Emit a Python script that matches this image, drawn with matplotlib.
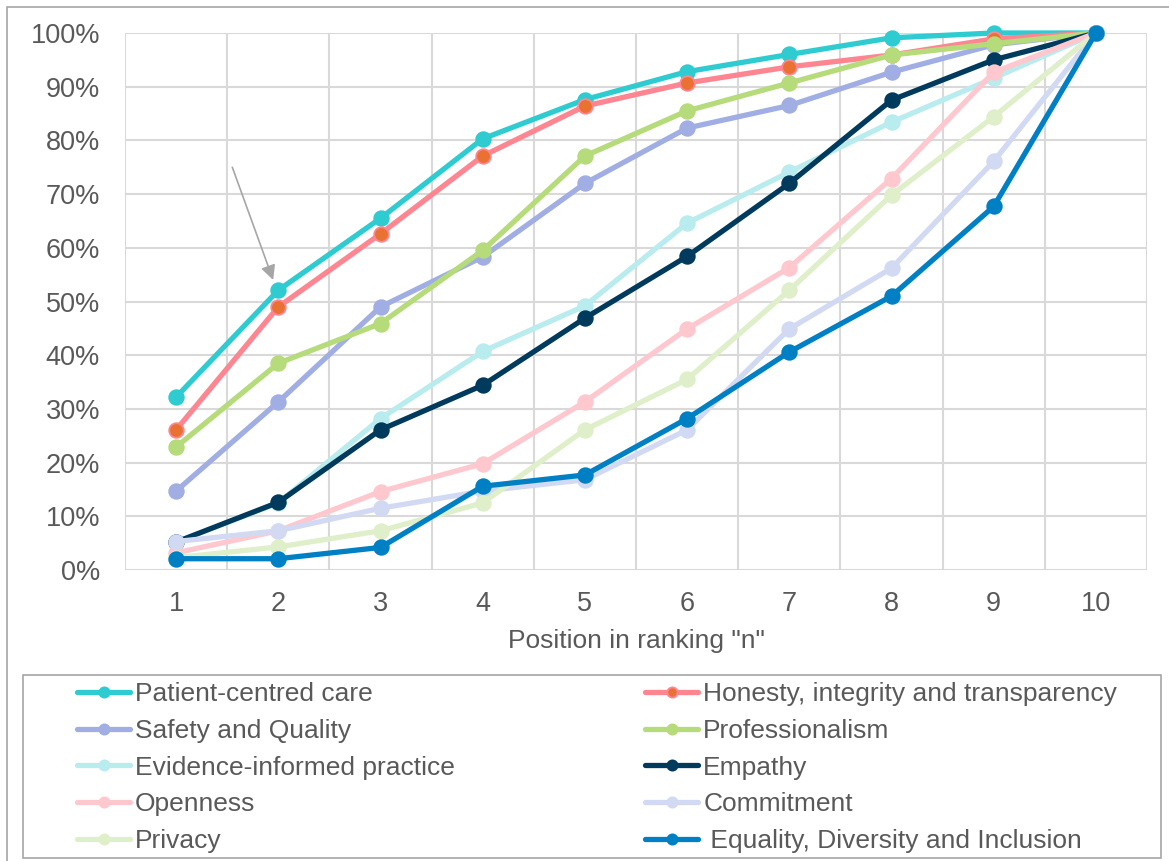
import matplotlib
matplotlib.use("Agg")
import matplotlib.pyplot as plt
from matplotlib.patches import Rectangle
from matplotlib.ticker import FixedLocator, PercentFormatter

plt.rcParams['font.family'] = ['Liberation Sans', 'DejaVu Sans']

# ranking positions
positions = [1, 2, 3, 4, 5, 6, 7, 8, 9, 10]

# cumulative share (%) of respondents ranking the value within top n
patient_centred = [32.2, 52.1, 65.5, 80.3, 87.6, 92.8, 96.0, 99.1, 100.0, 100.0]
honesty = [26.1, 49.0, 62.6, 77.1, 86.4, 90.7, 93.7, 95.9, 98.9, 100.0]
safety_quality = [14.7, 31.3, 49.0, 58.3, 72.0, 82.3, 86.5, 92.7, 97.8, 100.0]
professionalism = [22.9, 38.5, 45.9, 59.5, 77.1, 85.5, 90.7, 95.9, 98.0, 100.0]
evidence = [5.2, 12.5, 28.2, 40.7, 49.2, 64.6, 74.1, 83.4, 91.6, 100.0]
empathy = [5.2, 12.6, 26.1, 34.4, 46.9, 58.4, 72.0, 87.5, 95.0, 100.0]
openness = [3.2, 7.3, 14.6, 19.8, 31.3, 44.9, 56.3, 72.9, 92.7, 100.0]
commitment = [5.3, 7.3, 11.5, 14.7, 16.8, 26.1, 44.9, 56.2, 76.1, 100.0]
privacy = [2.3, 4.3, 7.3, 12.5, 26.1, 35.5, 52.1, 69.8, 84.4, 100.0]
equality = [2.1, 2.1, 4.2, 15.6, 17.7, 28.2, 40.6, 51.0, 67.7, 100.0]

series = [
    ("Patient-centred care", patient_centred, "#2ECCD1", "#2ECCD1"),
    ("Honesty, integrity and transparency", honesty, "#FF8591", "#E97132"),
    ("Safety and Quality", safety_quality, "#A0AEE4", "#A0AEE4"),
    ("Professionalism", professionalism, "#B5DB7A", "#B5DB7A"),
    ("Evidence-informed practice", evidence, "#B8ECEE", "#B8ECEE"),
    ("Empathy", empathy, "#003A5C", "#003A5C"),
    ("Openness", openness, "#FFC7CE", "#FFC7CE"),
    ("Commitment", commitment, "#D2DAF3", "#D2DAF3"),
    ("Privacy", privacy, "#DFEFC9", "#DFEFC9"),
    (" Equality, Diversity and Inclusion", equality, "#0080C4", "#0080C4"),
]

W, H = 1169, 861
fig = plt.figure(figsize=(W / 100, H / 100), dpi=100)
ax = fig.add_axes([125 / W, 1 - 570 / H, (1147 - 125) / W, (570 - 33) / H])

handles = []
for name, vals, col, mcol in series:
    ln, = ax.plot(positions, vals, color=col, lw=3.8, marker='o', ms=10.5,
                  markerfacecolor=mcol, markeredgecolor=col, markeredgewidth=1.3,
                  label=name, solid_capstyle='round', clip_on=False)
    handles.append(ln)

ax.set_xlim(0.5, 10.5)
ax.set_ylim(0, 100)
ax.set_xticks(positions)
ax.xaxis.set_minor_locator(FixedLocator([p - 0.5 for p in positions] + [10.5]))
ax.set_yticks(range(0, 101, 10))
ax.yaxis.set_major_formatter(PercentFormatter(decimals=0))
ax.grid(which='minor', axis='x', color='#D9D9D9', lw=1.5)
ax.grid(which='major', axis='y', color='#D9D9D9', lw=1.5)
ax.set_axisbelow(True)
for s in ax.spines.values():
    s.set_visible(False)
ax.tick_params(which='both', length=0, labelsize=19.5, colors='#595959')
ax.tick_params(axis='x', pad=15)
ax.tick_params(axis='y', pad=18)
ax.set_xlabel('Position in ranking "n"', fontsize=19, color='#595959', labelpad=9)

# annotation arrow
ax.annotate('', xy=(1.95, 54.0), xytext=(1.55, 75.0),
            arrowprops=dict(arrowstyle='-|>', color='#A6A6A6', lw=1.2,
                            mutation_scale=22, shrinkA=0, shrinkB=0))

# outer chart border and legend frame
fig.patches.append(Rectangle((7 / W, -0.1), 1.2, 1 - 7 / H + 0.1, transform=fig.transFigure,
                             fill=False, edgecolor='#A6A6A6', lw=1.2))
fig.patches.append(Rectangle((23 / W, 1 - 858 / H), (1161 - 23) / W, (858 - 675) / H,
                             transform=fig.transFigure, fill=False, edgecolor='#A6A6A6', lw=1.2))

# legend in row-major order like the source
order = [0, 2, 4, 6, 8, 1, 3, 5, 7, 9]
leg = fig.legend([handles[i] for i in order], [series[i][0] for i in order],
                 ncol=2, loc='upper left', bbox_to_anchor=(64 / W, 1 - 669 / H),
                 frameon=False, fontsize=19, handlelength=2.0, handletextpad=0.2,
                 columnspacing=7.2, labelspacing=0.48, borderpad=0, markerscale=0.7)
for t in leg.get_texts():
    t.set_color('#595959')

fig.savefig('out.png', dpi=100)
